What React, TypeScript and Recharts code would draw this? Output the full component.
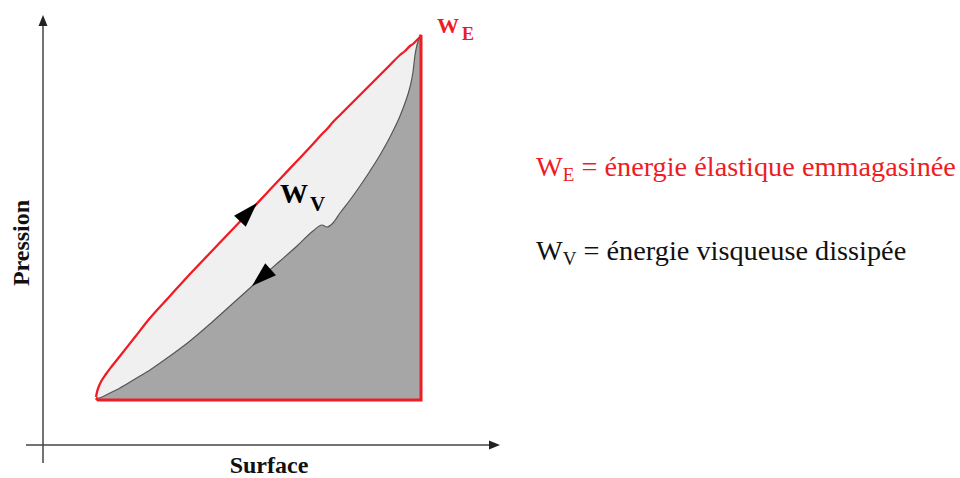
import React from 'react';
import { ComposedChart, Area, Line, Scatter, XAxis, YAxis, ReferenceLine } from 'recharts';

// Schematic pressure–surface hysteresis loop (arbitrary units, origin at the axes crossing)
const surface = [53, 54, 56, 59, 63, 69, 77, 92, 107, 127, 147, 167, 187, 207, 222, 237, 254, 270, 279, 284, 290, 297, 307, 317, 327, 337, 347, 357, 362, 367, 370, 372, 374, 377];
const pressionCharge = [48, 53, 59, 65, 71, 79, 89, 108, 127, 149, 171, 192, 213, 234, 250, 266, 284, 301, 311, 316, 323, 330, 340, 350, 360, 370, 380, 390, 394, 399, 401, 403, 405, 408];
const pressionDecharge = [47, 47, 47, 48, 50, 53, 57, 66, 75, 89, 104, 121, 139, 157, 171, 184, 199, 214, 220, 218, 222, 232, 245, 259, 274, 290, 308, 329, 342, 358, 373, 390, 400, 408];

const basePression = 45;

// red frame closing W_E (vertical at max surface, horizontal at base pressure)
const frameSurface = [377, 378, 378, 55, 53];
const framePression = [408, 410, 45, 45, 47];

// direction arrows on the loop (tip position + direction)
const arrowSurface = [214, 209];
const arrowPression = [242, 159];
const arrowDirX = [1, -1];
const arrowDirY = [1.07, -0.9];

// axes extents
const axisMin = { x: -17, y: -18 };
const axisTip = { x: 457, y: 430 };

const loop = surface.map((x, i) => ({ x, hi: pressionCharge[i], lo: pressionDecharge[i] }));
const frame = frameSurface.map((x, i) => ({ x, y: framePression[i] }));
const arrows = arrowSurface.map((x, i) => ({ x, y: arrowPression[i], dx: arrowDirX[i], dy: arrowDirY[i] }));
const axisArrows = [
  { x: axisTip.x, y: 0, dx: 1, dy: 0 },
  { x: 0, y: axisTip.y, dx: 0, dy: 1 },
];

const makeArrow = (len: number, half: number, fill: string) => (props: any) => {
  const { cx, cy, payload } = props;
  if (cx == null || cy == null) return <g />;
  const ang = (Math.atan2(-payload.dy, payload.dx) * 180) / Math.PI;
  return (
    <polygon
      points={`0,0 ${-len},${-half} ${-len},${half}`}
      transform={`translate(${cx},${cy}) rotate(${ang})`}
      fill={fill}
    />
  );
};

const RED = '#ee1c24';
const SERIF = "'Liberation Serif', 'Times New Roman', Times, serif";

export default function App() {
  return (
    <div style={{ position: 'absolute', left: 0, top: 0, width: 960, height: 478, background: '#fff' }}>
      <ComposedChart width={960} height={478} margin={{ top: 15, right: 460, bottom: 15, left: 26 }}>
        <XAxis type="number" dataKey="x" domain={[axisMin.x, axisTip.x]} hide allowDataOverflow />
        <YAxis type="number" dataKey="y" domain={[axisMin.y, axisTip.y]} hide allowDataOverflow />
        <ReferenceLine
          segment={[{ x: axisMin.x, y: 0 }, { x: axisTip.x - 6, y: 0 }]}
          stroke="#444"
          strokeWidth={1.5}
        />
        <ReferenceLine
          segment={[{ x: 0, y: axisMin.y }, { x: 0, y: axisTip.y - 6 }]}
          stroke="#444"
          strokeWidth={1.5}
        />
        <Area
          data={loop}
          dataKey="lo"
          type="monotone"
          baseValue={basePression}
          stroke="none"
          fill="#a6a6a6"
          fillOpacity={1}
          isAnimationActive={false}
          dot={false}
          activeDot={false}
        />
        <Area
          data={loop}
          dataKey={(d: any) => [d.lo, d.hi]}
          type="monotone"
          stroke="none"
          fill="#f0f0f0"
          fillOpacity={1}
          isAnimationActive={false}
          dot={false}
          activeDot={false}
        />
        <Line data={loop} dataKey="lo" type="monotone" stroke="#555" strokeWidth={1.2} dot={false} activeDot={false} isAnimationActive={false} />
        <Line data={loop} dataKey="hi" type="monotone" stroke={RED} strokeWidth={2.3} dot={false} activeDot={false} isAnimationActive={false} />
        <Line data={frame} dataKey="y" type="linear" stroke={RED} strokeWidth={3} dot={false} activeDot={false} isAnimationActive={false} />
        <Scatter data={arrows} dataKey="y" shape={makeArrow(25, 8, '#000')} isAnimationActive={false} />
        <Scatter data={axisArrows} dataKey="y" shape={makeArrow(11, 4.5, '#222')} isAnimationActive={false} />
      </ComposedChart>
      <svg
        width={960}
        height={478}
        style={{ position: 'absolute', left: 0, top: 0, pointerEvents: 'none' }}
        fontFamily={SERIF}
      >
        <text x={437} y={33} fontSize={22} fontWeight="bold" fill={RED}>
          W<tspan fontSize={18} dx={3} dy={7}>E</tspan>
        </text>
        <text x={280} y={203} fontSize={28} fontWeight="bold" fill="#000">
          W<tspan fontSize={21} dx={2} dy={8}>V</tspan>
        </text>
        <text x={536} y={176} fontSize={28.3} fill={RED}>
          W<tspan fontSize={19} dy={5}>E</tspan>
          <tspan dy={-5}> = énergie élastique emmagasinée</tspan>
        </text>
        <text x={536} y={260} fontSize={28.3} fill="#111">
          W<tspan fontSize={19} dy={5}>V</tspan>
          <tspan dy={-5}> = énergie visqueuse dissipée</tspan>
        </text>
        <text x={269} y={473} textAnchor="middle" fontSize={24} fontWeight="bold" fill="#111">
          Surface
        </text>
        <text transform="translate(29,243) rotate(-90)" textAnchor="middle" fontSize={24} fontWeight="bold" fill="#111">
          Pression
        </text>
      </svg>
    </div>
  );
}
